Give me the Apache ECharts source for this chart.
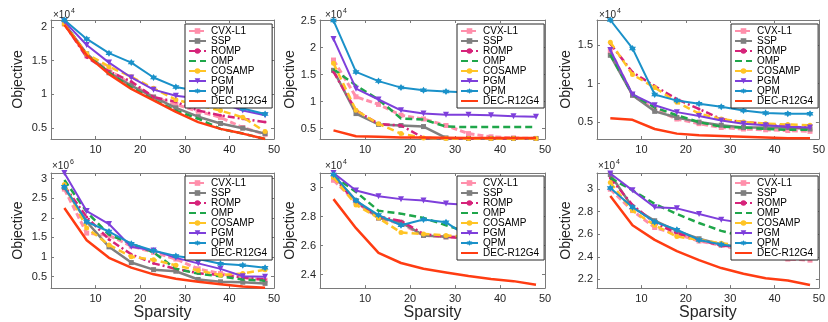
<!DOCTYPE html>
<html><head><meta charset="utf-8">
<script src="https://cdn.jsdelivr.net/npm/echarts@6/dist/echarts.min.js"></script>
<style>html,body{margin:0;padding:0;background:#fff}#c{width:828px;height:322px}</style>
</head><body><div id="c"></div>
<script>
// ---- data (values in units of the axis multiplier: x10^4 or x10^6) ----
const sparsity = [3, 8, 13, 18, 23, 28, 33, 38, 43, 48];
const xTicks = [10, 20, 30, 40, 50];
const methodNames = ['CVX-L1', 'SSP', 'ROMP', 'OMP', 'COSAMP', 'PGM', 'QPM', 'DEC-R12G4'];
// each row = one panel (top-left, top-mid, top-right, bottom-left, bottom-mid, bottom-right)
const cvxL1 = [
  [2.04, 1.57, 1.36, 1.15, 0.96, 0.85, 0.75, 0.66, 0.51, 0.41],
  [1.77, 1.09, 0.95, 0.75, 0.68, 0.56, 0.41, 0.35, 0.33, 0.32],
  [1.43, 0.85, 0.67, 0.54, 0.48, 0.43, 0.41, 0.40, 0.39, 0.38],
  [2.73, 1.61, 1.55, 1.28, 1.12, 0.95, 0.70, 0.58, 0.48, 0.41],
  [3.05, 2.90, 2.79, 2.75, 2.67, 2.66, 2.655, 2.65, 2.645, 2.64],
  [3.00, 2.81, 2.66, 2.60, 2.54, 2.50, 2.46, 2.40, 2.38, 2.37]
];
const ssp = [
  [2.05, 1.60, 1.32, 1.13, 0.96, 0.80, 0.67, 0.57, 0.50, 0.42],
  [1.58, 0.78, 0.58, 0.56, 0.54, 0.33, 0.32, 0.32, 0.32, 0.32],
  [1.37, 0.85, 0.64, 0.56, 0.50, 0.46, 0.43, 0.43, 0.43, 0.41],
  [2.77, 1.90, 1.26, 0.86, 0.68, 0.64, 0.43, 0.37, 0.36, 0.33],
  [3.08, 2.91, 2.79, 2.76, 2.67, 2.66, 2.655, 2.65, 2.645, 2.64],
  [3.13, 2.84, 2.72, 2.63, 2.56, 2.51, 2.48, 2.46, 2.44, 2.42]
];
const romp = [
  [2.04, 1.55, 1.34, 1.19, 0.96, 0.89, 0.76, 0.69, 0.64, 0.59],
  [1.55, 0.84, 0.59, 0.56, 0.33, 0.32, 0.32, 0.32, 0.32, 0.32],
  [1.52, 1.15, 0.97, 0.80, 0.67, 0.54, 0.50, 0.48, 0.44, 0.43],
  [2.81, 2.02, 1.45, 1.07, 0.84, 0.70, 0.59, 0.54, 0.48, 0.43],
  [3.07, 2.90, 2.80, 2.77, 2.68, 2.66, 2.65, 2.645, 2.64, 2.64],
  [3.10, 2.86, 2.70, 2.61, 2.55, 2.50, 2.48, 2.46, 2.44, 2.42]
];
const omp = [
  [2.05, 1.59, 1.32, 1.10, 0.92, 0.76, 0.64, 0.49, 0.42, 0.34],
  [1.60, 1.30, 1.04, 0.69, 0.67, 0.54, 0.53, 0.53, 0.53, 0.53],
  [1.38, 0.86, 0.69, 0.59, 0.50, 0.44, 0.43, 0.41, 0.40, 0.40],
  [2.96, 2.15, 1.57, 1.34, 1.12, 0.70, 0.58, 0.51, 0.43, 0.40],
  [3.08, 2.97, 2.84, 2.82, 2.79, 2.74, 2.69, 2.68, 2.675, 2.67],
  [3.10, 2.99, 2.87, 2.78, 2.70, 2.63, 2.58, 2.54, 2.51, 2.48]
];
const cosamp = [
  [2.04, 1.60, 1.41, 1.26, 1.09, 0.92, 0.84, 0.76, 0.66, 0.45],
  [1.71, 0.84, 0.59, 0.41, 0.33, 0.32, 0.32, 0.32, 0.32, 0.32],
  [1.54, 1.12, 0.95, 0.76, 0.61, 0.54, 0.50, 0.48, 0.47, 0.46],
  [2.85, 1.74, 1.31, 1.01, 0.93, 0.79, 0.66, 0.54, 0.58, 0.68],
  [3.07, 2.88, 2.79, 2.69, 2.68, 2.67, 2.66, 2.655, 2.65, 2.65],
  [3.06, 2.81, 2.68, 2.58, 2.55, 2.52, 2.50, 2.48, 2.44, 2.42]
];
const pgm = [
  [2.08, 1.73, 1.47, 1.25, 1.07, 0.98, 0.94, 0.88, 0.76, 0.69],
  [2.16, 1.24, 1.04, 0.84, 0.78, 0.76, 0.76, 0.75, 0.73, 0.72],
  [1.44, 0.86, 0.72, 0.63, 0.58, 0.52, 0.48, 0.46, 0.44, 0.43],
  [3.14, 2.17, 1.84, 1.26, 1.17, 0.98, 0.84, 0.70, 0.51, 0.50],
  [3.10, 2.98, 2.94, 2.92, 2.91, 2.89, 2.88, 2.875, 2.87, 2.865],
  [3.14, 2.99, 2.84, 2.83, 2.78, 2.73, 2.70, 2.68, 2.66, 2.65]
];
const qpm = [
  [2.10, 1.82, 1.61, 1.47, 1.25, 1.11, 1.05, 0.92, 0.79, 0.71],
  [2.50, 1.55, 1.38, 1.26, 1.21, 1.19, 1.17, 1.15, 1.14, 1.13],
  [1.83, 1.46, 0.86, 0.78, 0.74, 0.70, 0.65, 0.62, 0.61, 0.61],
  [2.79, 1.90, 1.65, 1.34, 1.16, 1.03, 0.95, 0.83, 0.79, 0.73],
  [3.09, 2.91, 2.81, 2.74, 2.78, 2.76, 2.66, 2.65, 2.645, 2.64],
  [3.01, 2.84, 2.71, 2.64, 2.55, 2.51, 2.48, 2.46, 2.41, 2.40]
];
const decR12G4 = [
  [2.03, 1.58, 1.30, 1.08, 0.91, 0.74, 0.59, 0.49, 0.42, 0.34],
  [0.47, 0.36, 0.35, 0.34, 0.34, 0.335, 0.33, 0.33, 0.33, 0.33],
  [0.55, 0.53, 0.41, 0.35, 0.33, 0.32, 0.31, 0.30, 0.29, 0.29],
  [2.25, 1.43, 0.98, 0.73, 0.56, 0.45, 0.37, 0.31, 0.25, 0.22],
  [2.92, 2.72, 2.55, 2.48, 2.44, 2.415, 2.39, 2.37, 2.355, 2.33],
  [2.94, 2.68, 2.55, 2.45, 2.37, 2.30, 2.25, 2.21, 2.19, 2.15]
];
const yRanges = [[0.34, 2.1], [0.31, 2.51], [0.28, 1.83], [0.21, 3.14], [2.307, 3.10], [2.122, 3.144]];
const yTicks = [[0.5, 1, 1.5, 2], [0.5, 1, 1.5, 2, 2.5], [0.5, 1, 1.5], [0.5, 1, 1.5, 2, 2.5, 3], [2.4, 2.6, 2.8, 3], [2.2, 2.4, 2.6, 2.8, 3]];
const exponents = ['4', '4', '4', '6', '4', '4'];
const xLabel = 'Sparsity';
const yLabel = 'Objective';

// ---- layout & styles ----
const FONT = "'Liberation Sans', Arial, sans-serif";
const AX = '#7a7a7a';
const TXT = '#262626';
const allData = [cvxL1, ssp, romp, omp, cosamp, pgm, qpm, decR12G4];
const star = 'path://M0,-10 L2.9,-5 L8.7,-5 L5.8,0 L8.7,5 L2.9,5 L0,10 L-2.9,5 L-8.7,5 L-5.8,0 L-8.7,-5 L-2.9,-5 Z';
const styles = [
  {color: '#ff8fab', type: [6, 3], width: 3, symbol: 'rect', size: 5},
  {color: '#7f7f7f', type: 'solid', width: 2.5, symbol: 'rect', size: 5},
  {color: '#d6237a', type: [7, 3, 2, 3], width: 2.5, symbol: 'circle', size: 3},
  {color: '#1fa64a', type: [7, 4], width: 2.5, symbol: 'none', size: 0},
  {color: '#ffc425', type: [7, 4], width: 2.5, symbol: 'circle', size: 5},
  {color: '#7e3fdb', type: 'solid', width: 2, symbol: 'triangle', size: 6, rotate: 180},
  {color: '#1a91c9', type: 'solid', width: 2, symbol: star, size: 7},
  {color: '#ff3c12', type: 'solid', width: 2.5, symbol: 'none', size: 0}
];
const colLeft = [51, 320, 597];
const colWidth = [223, 225, 222];
const rowTop = [20, 173];
const gridH = 119;
const yNameGap = [26, 22, 24];
const legLeft = [185, 457, 731];
const legTop = [24, 176];
const expX = [[53, 325, 599], [52, 325, 598]];
const expY = [15, 166];

const legendData = methodNames.map((n, m) =>
  styles[m].symbol === 'none' ? {name: n, itemStyle: {opacity: 0}} : {name: n});

const grid = [], xAxis = [], yAxis = [], series = [], legend = [], graphic = [];
for (let p = 0; p < 6; p++) {
  const r = Math.floor(p / 3), c = p % 3;
  grid.push({left: colLeft[c], top: rowTop[r], width: colWidth[c], height: gridH, show: false});
  const baseAx = {gridIndex: p, type: 'value', splitLine: {show: false},
    axisLine: {show: true, onZero: false, lineStyle: {color: AX, width: 1}}};
  xAxis.push(Object.assign({}, baseAx, {
    position: 'bottom', min: 0, max: 50,
    axisTick: {show: true, inside: true, length: 3, customValues: xTicks, lineStyle: {color: AX}},
    axisLabel: {customValues: xTicks, fontSize: 11, color: TXT, margin: 5, fontFamily: FONT},
    name: r === 1 ? xLabel : '', nameLocation: 'middle', nameGap: 13,
    nameTextStyle: {fontSize: 16, color: TXT, fontFamily: FONT}
  }));
  xAxis.push(Object.assign({}, baseAx, {
    position: 'top', min: 0, max: 50,
    axisTick: {show: true, inside: true, length: 3, customValues: xTicks, lineStyle: {color: AX}},
    axisLabel: {show: false}
  }));
  yAxis.push(Object.assign({}, baseAx, {
    position: 'left', min: yRanges[p][0], max: yRanges[p][1],
    axisTick: {show: true, inside: true, length: 3, customValues: yTicks[p], lineStyle: {color: AX}},
    axisLabel: {customValues: yTicks[p], fontSize: 11, color: TXT, margin: 4, fontFamily: FONT},
    name: yLabel, nameLocation: 'middle', nameGap: yNameGap[c], nameRotate: 90,
    nameTextStyle: {fontSize: 14, color: TXT, fontFamily: FONT}
  }));
  yAxis.push(Object.assign({}, baseAx, {
    position: 'right', min: yRanges[p][0], max: yRanges[p][1],
    axisTick: {show: true, inside: true, length: 3, customValues: yTicks[p], lineStyle: {color: AX}},
    axisLabel: {show: false}
  }));
  for (let m = 0; m < 8; m++) {
    const s = styles[m];
    series.push({
      type: 'line', name: methodNames[m], xAxisIndex: 2 * p, yAxisIndex: 2 * p,
      data: sparsity.map((x, k) => [x, allData[m][p][k]]),
      symbol: s.symbol, symbolSize: s.size, symbolRotate: s.rotate || 0, showSymbol: s.symbol !== 'none',
      color: s.color, itemStyle: {color: s.color},
      lineStyle: {color: s.color, width: s.width, type: s.type},
      animation: false, clip: true, z: 2 + m * 0.01
    });
  }
  legend.push({
    orient: 'vertical', left: legLeft[c], top: legTop[r], padding: [2, 5, 2, 3],
    itemGap: 0, itemWidth: 17, itemHeight: 7, backgroundColor: '#fff',
    borderColor: '#262626', borderWidth: 1, borderRadius: 0, selectedMode: false,
    textStyle: {fontSize: 10, lineHeight: 9.7, color: '#000', fontFamily: FONT},
    data: legendData, z: 10
  });
  graphic.push({type: 'text', x: expX[r][c], y: expY[r],
    style: {text: '×10', fontSize: 10, fontFamily: FONT, fill: TXT, verticalAlign: 'middle'}});
  graphic.push({type: 'text', x: expX[r][c] + 18, y: expY[r] - 4,
    style: {text: exponents[p], fontSize: 7, fontFamily: FONT, fill: TXT, verticalAlign: 'middle'}});
}

const chart = echarts.init(document.getElementById('c'), null, {renderer: 'canvas'});
chart.setOption({animation: false, backgroundColor: '#fff', grid, xAxis, yAxis, series, legend, graphic});
</script></body></html>
